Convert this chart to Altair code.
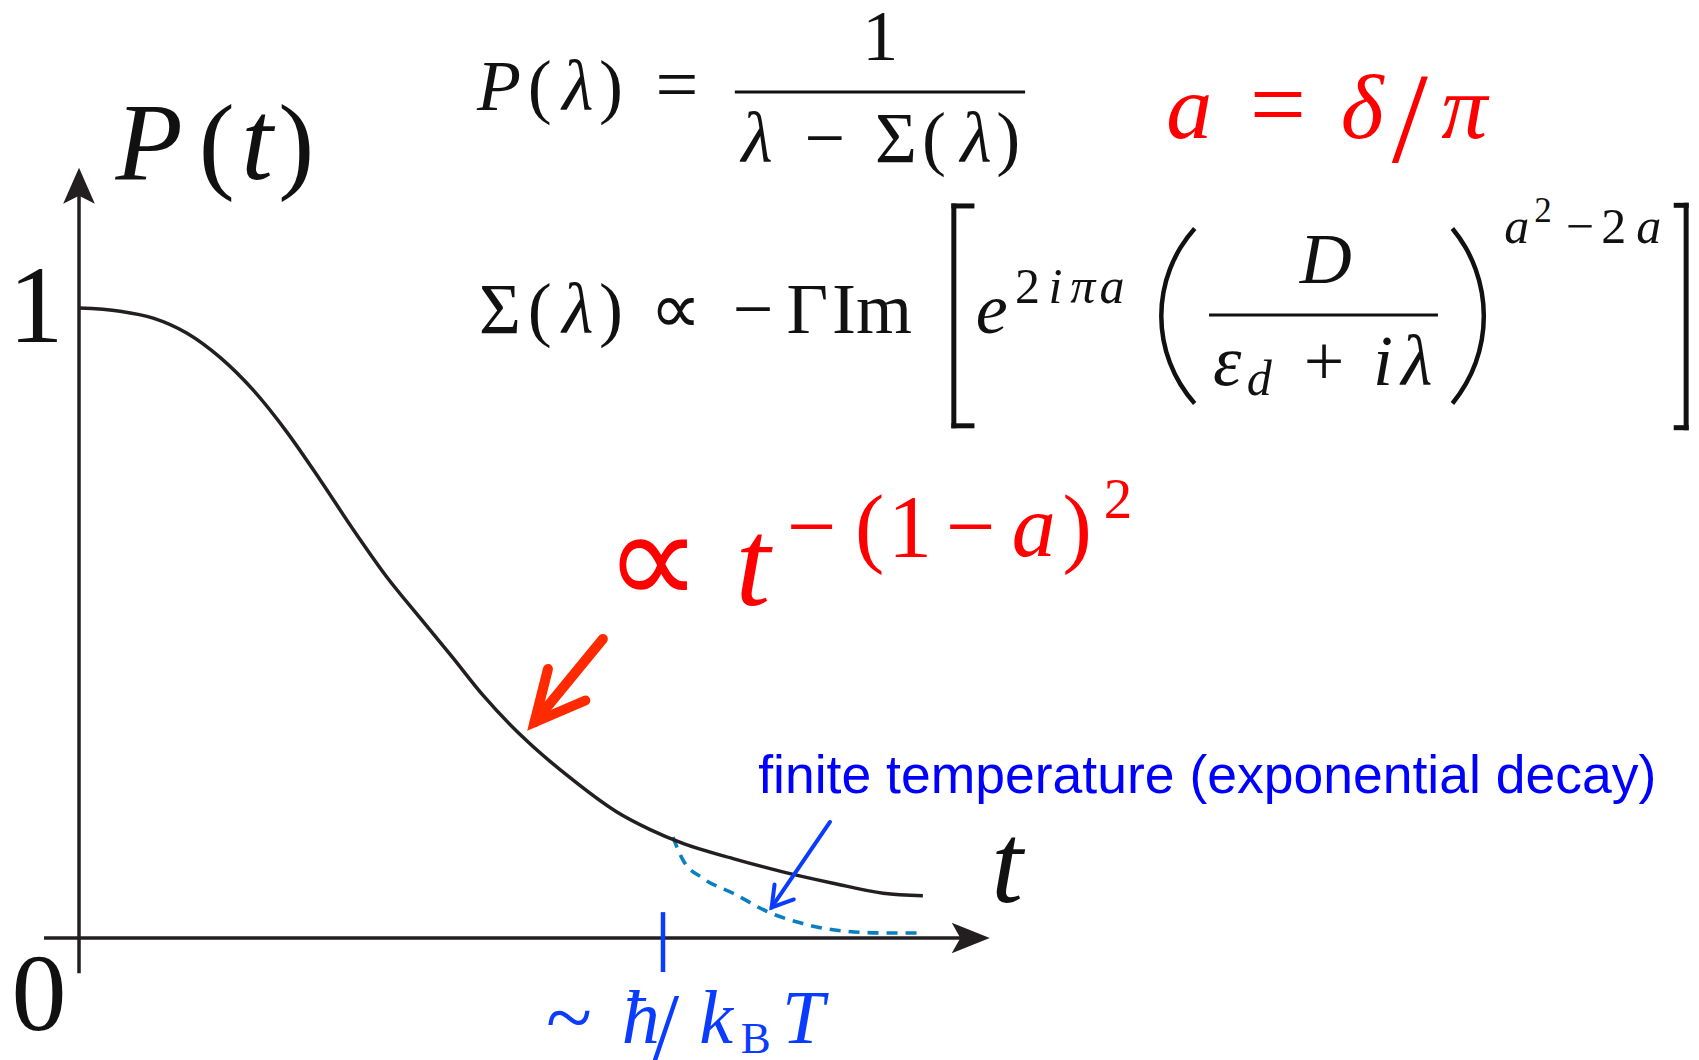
import altair as alt
import pandas as pd

# ---- survival probability P(t): zero temperature (power-law tail) ----
t_zero_T = [0.0, 0.070, 0.127, 0.185, 0.241, 0.298, 0.356, 0.413, 0.469, 0.527,
            0.584, 0.640, 0.692, 0.769, 0.836, 0.921, 0.978, 1.034, 1.120, 1.205,
            1.291, 1.377, 1.445]
p_zero_T = [1.000, 0.995, 0.984, 0.960, 0.922, 0.870, 0.803, 0.727, 0.649, 0.573,
            0.508, 0.445, 0.385, 0.311, 0.258, 0.200, 0.172, 0.150, 0.126, 0.105,
            0.087, 0.071, 0.067]

# ---- finite temperature: exponential cut-off beyond t ~ hbar/k_B T ----
t_finite_T = [1.017, 1.034, 1.068, 1.120, 1.183, 1.235, 1.291, 1.377, 1.445]
p_finite_T = [0.160, 0.124, 0.095, 0.071, 0.040, 0.024, 0.013, 0.008, 0.008]

# crossover time hbar/k_B T (tick on the time axis)
t_cross = 1.0

# ---- plotting frame (t in units of hbar/k_B T, P from 0 to 1) ----
X_DOMAIN = [-0.1353, 2.7740]
Y_DOMAIN = [-0.1937, 1.4889]
W, H = 1699, 1060

INK = "#111111"
AXIS = "#231f20"
RED = "#ff0000"
ARROW_RED = "#ff2a00"
BLUE = "#0a3cff"
TEXT_BLUE = "#0000ff"
DASH_BLUE = "#0a7fc0"

xs = alt.Scale(domain=X_DOMAIN, nice=False, zero=False)
ys = alt.Scale(domain=Y_DOMAIN, nice=False, zero=False)

# ---- text pieces: (t, P, text, font size, colour, italic?) ----
labels = [
    # axis labels
    (-0.0736, 0.946, "1", 110, INK, False),
    (-0.0685, -0.146, "0", 110, INK, False),
    (0.120, 1.2048, "P", 110, INK, True),
    (0.236, 1.2048, "(", 108, INK, False),
    (0.305, 1.2048, "t", 114, INK, True),
    (0.372, 1.2048, ")", 108, INK, False),
    (1.589, 0.057, "t", 114, INK, True),
    # P(λ) = 1 / (λ − Σ(λ))
    (0.719, 1.3143, "P", 72, INK, True),
    (0.789, 1.3143, "(", 72, INK, False),
    (0.854, 1.3143, "λ", 72, INK, True),
    (0.911, 1.3143, ")", 72, INK, False),
    (1.024, 1.3143, "=", 76, INK, False),
    (1.372, 1.394, "1", 72, INK, False),
    (1.161, 1.2317, "λ", 72, INK, True),
    (1.277, 1.2317, "−", 72, INK, False),
    (1.399, 1.2317, "Σ", 72, INK, False),
    (1.464, 1.2317, "(", 72, INK, False),
    (1.536, 1.2317, "λ", 72, INK, True),
    (1.591, 1.2317, ")", 72, INK, False),
    # a = δ/π
    (1.901, 1.2698, "a", 92, RED, True),
    (2.053, 1.2698, "=", 100, RED, False),
    (2.197, 1.2698, "δ", 92, RED, True),
    (2.279, 1.2317, "/", 130, RED, False),
    (2.372, 1.2698, "π", 92, RED, True),
    # Σ(λ) ∝ −ΓIm[ e^{2iπa} (D/(ε_d + iλ))^{a²−2a} ]
    (0.721, 0.9603, "Σ", 72, INK, False),
    (0.789, 0.9603, "(", 72, INK, False),
    (0.854, 0.9603, "λ", 72, INK, True),
    (0.911, 0.9603, ")", 72, INK, False),
    (1.022, 0.9603, "∝", 72, INK, False),
    (1.154, 0.9603, "−", 72, INK, False),
    (1.247, 0.9603, "Γ", 72, INK, False),
    (1.358, 0.9603, "Im", 72, INK, False),
    (1.563, 0.9603, "e", 72, INK, True),
    (1.624, 1.0079, "2", 50, INK, False),
    (1.672, 1.0079, "i", 50, INK, True),
    (1.719, 1.0079, "π", 50, INK, True),
    (1.769, 1.0079, "a", 50, INK, True),
    (2.135, 1.0397, "D", 72, INK, True),
    (1.966, 0.8778, "ε", 72, INK, True),
    (2.021, 0.8619, "d", 50, INK, True),
    (2.132, 0.8778, "+", 72, INK, False),
    (2.233, 0.8778, "i", 72, INK, True),
    (2.291, 0.8778, "λ", 72, INK, True),
    (2.462, 1.1032, "a", 50, INK, True),
    (2.507, 1.1365, "2", 35, INK, False),
    (2.570, 1.1032, "−", 50, INK, False),
    (2.628, 1.1032, "2", 50, INK, False),
    (2.688, 1.1032, "a", 50, INK, True),
    # ∝ t^{−(1−a)²}
    (0.983, 0.5286, "∝", 135, RED, False),
    (1.154, 0.5286, "t", 125, RED, True),
    (1.255, 0.6063, "−", 88, RED, False),
    (1.354, 0.6063, "(", 88, RED, False),
    (1.423, 0.6063, "1", 88, RED, False),
    (1.527, 0.6063, "−", 88, RED, False),
    (1.635, 0.6063, "a", 88, RED, True),
    (1.709, 0.6063, ")", 88, RED, False),
    (1.779, 0.6667, "2", 57, RED, False),
    # ~ ħ/k_B T
    (0.839, -0.1714, "~", 85, BLUE, False),
    (0.962, -0.1667, "ħ", 76, BLUE, True),
    (1.005, -0.1920, "/", 95, BLUE, False),
    (1.091, -0.1667, "k", 76, BLUE, True),
    (1.159, -0.1825, "B", 45, BLUE, False),
    (1.240, -0.1667, "T", 76, BLUE, True),
]
lab = pd.DataFrame(labels, columns=["t", "P", "s", "size", "color", "italic"])

note = pd.DataFrame({"t": [1.163], "P": [0.230],
                     "s": ["finite temperature (exponential decay)"],
                     "size": [53.5], "color": [TEXT_BLUE]})

# ---- straight strokes: axes, tick, fraction bars ----
segments = pd.DataFrame([
    (-0.0599, 1.525, 0.0, 0.0, AXIS, 3.5),       # time axis
    (0.0, 0.0, -0.056, 1.19, AXIS, 3.5),          # P axis
    (t_cross, t_cross, -0.054, 0.041, BLUE, 4.5),  # hbar/k_B T tick
    (1.123, 1.620, 1.343, 1.343, INK, 3.0),        # fraction bar
    (1.935, 2.327, 0.9889, 0.9889, INK, 3.0),      # inner fraction bar
], columns=["t", "t2", "P", "P2", "color", "w"])

brackets = pd.DataFrame([
    (1.498, 1.498, 0.813, 1.162),
    (1.498, 1.529, 1.162, 1.162),
    (1.498, 1.529, 0.813, 0.813),
    (2.752, 2.752, 0.810, 1.163),
    (2.735, 2.752, 1.163, 1.163),
    (2.735, 2.752, 0.810, 0.810),
], columns=["t", "t2", "P", "P2"])

# ---- annotation arrows (shaft + head as polylines) ----
arrows = pd.DataFrame([
    ("red_shaft", 0, 0.897, 0.4746, ARROW_RED, 10.0),
    ("red_shaft", 1, 0.780, 0.3424, ARROW_RED, 10.0),
    ("red_head", 0, 0.803, 0.4270, ARROW_RED, 10.0),
    ("red_head", 1, 0.780, 0.3424, ARROW_RED, 10.0),
    ("red_head", 2, 0.867, 0.3770, ARROW_RED, 10.0),
    ("blue_shaft", 0, 1.286, 0.1841, BLUE, 4.0),
    ("blue_shaft", 1, 1.186, 0.0484, BLUE, 4.0),
    ("blue_head", 0, 1.191, 0.0849, BLUE, 4.0),
    ("blue_head", 1, 1.186, 0.0484, BLUE, 4.0),
    ("blue_head", 2, 1.224, 0.0611, BLUE, 4.0),
], columns=["g", "k", "t", "P", "color", "w"])

curve = pd.DataFrame({"t": t_zero_T, "P": p_zero_T})
curve_T = pd.DataFrame({"t": t_finite_T, "P": p_finite_T})

X = lambda f="t:Q": alt.X(f, scale=xs, axis=None)
Y = lambda f="P:Q": alt.Y(f, scale=ys, axis=None)

solid = alt.Chart(curve).mark_line(color=AXIS, strokeWidth=3.5, interpolate="monotone").encode(
    x=X(), y=Y())
dashed = alt.Chart(curve_T).mark_line(color=DASH_BLUE, strokeWidth=3.6, strokeDash=[11, 8],
                                      interpolate="monotone").encode(x=X(), y=Y())

rules = alt.Chart(segments).mark_rule(strokeCap="butt").encode(
    x=X(), x2="t2:Q", y=Y(), y2="P2:Q",
    color=alt.Color("color:N", scale=None, legend=None),
    strokeWidth=alt.StrokeWidth("w:Q", scale=None, legend=None))

bracket_rules = alt.Chart(brackets).mark_rule(strokeCap="square", color=INK, strokeWidth=5).encode(
    x=X(), x2="t2:Q", y=Y(), y2="P2:Q")

# tall parentheses drawn as thin circular arcs around the inner fraction
paren_l = alt.Chart(pd.DataFrame({"t": [2.078], "P": [0.9873]})).mark_arc(
    theta=3.983, theta2=5.442, radius=133.5, radius2=129.0, color=INK).encode(x=X(), y=Y())
paren_r = alt.Chart(pd.DataFrame({"t": [2.170], "P": [0.9873]})).mark_arc(
    theta=0.881, theta2=2.260, radius=139.8, radius2=135.3, color=INK).encode(x=X(), y=Y())

arrow_lines = alt.Chart(arrows).mark_line(strokeCap="round", strokeJoin="miter").encode(
    x=X(), y=Y(), detail="g:N", order="k:Q",
    color=alt.Color("color:N", scale=None, legend=None),
    strokeWidth=alt.StrokeWidth("w:Q", scale=None, legend=None))

# axis arrowheads
head_t = alt.Chart(pd.DataFrame({"t": [1.527], "P": [0.0]})).mark_point(
    shape="M1,0 L-1,-0.8 L-0.55,0 L-1,0.8 Z", size=1444, filled=True, opacity=1,
    color=AXIS, strokeWidth=0).encode(x=X(), y=Y())
head_p = alt.Chart(pd.DataFrame({"t": [0.0], "P": [1.194]})).mark_point(
    shape="M0,-1 L-0.88,1 L0,0.55 L0.88,1 Z", size=1296, filled=True, opacity=1,
    color=AXIS, strokeWidth=0).encode(x=X(), y=Y())


def text_layer(df, italic):
    sub = df[df["italic"] == italic]
    return alt.Chart(sub).mark_text(
        font="Liberation Serif", fontStyle="italic" if italic else "normal",
        align="center", baseline="alphabetic").encode(
        x=X(), y=Y(), text="s:N",
        size=alt.Size("size:Q", scale=None, legend=None),
        color=alt.Color("color:N", scale=None, legend=None))


note_layer = alt.Chart(note).mark_text(
    font="Liberation Sans", align="left", baseline="alphabetic").encode(
    x=X(), y=Y(), text="s:N",
    size=alt.Size("size:Q", scale=None, legend=None),
    color=alt.Color("color:N", scale=None, legend=None))

chart = alt.layer(
    rules, bracket_rules, paren_l, paren_r, dashed, solid, arrow_lines,
    head_t, head_p, text_layer(lab, False), text_layer(lab, True), note_layer,
).properties(
    width=W, height=H, autosize=alt.AutoSizeParams(type="none"), padding=0,
    background="white",
).configure_view(stroke=None)

chart.save("out.html", embed_options={"renderer": "svg", "actions": False})
